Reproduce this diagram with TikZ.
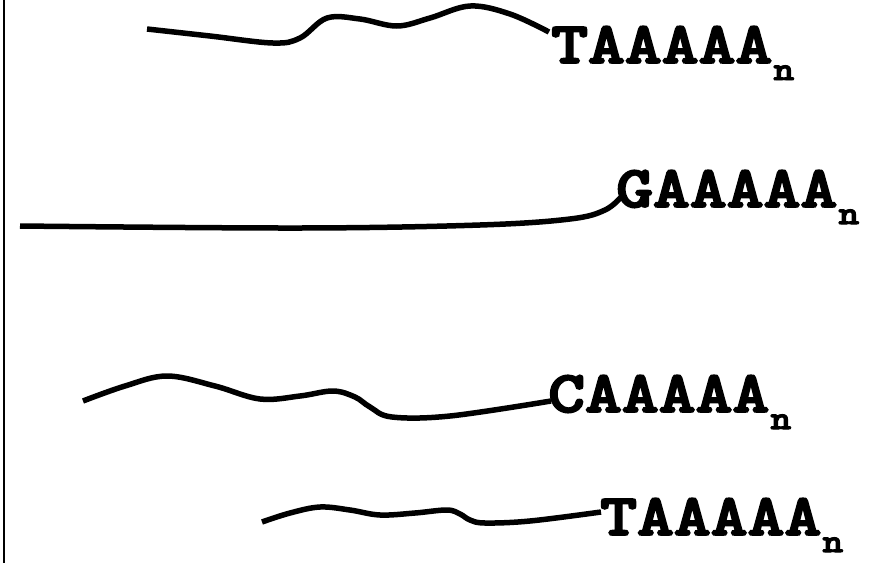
\documentclass[tikz,border=0pt]{standalone}
\usepackage{graphicx}
\usepackage{fontspec}
% heavy slab-serif monospace for the sequence tails
\newfontfamily\seqfont{lmmonolt10-bold.otf}[FakeBold=3]
\tikzset{
  strand/.style={line width=5.5pt, line cap=butt, line join=round},
  seqlabel/.style={inner sep=0pt, anchor=base west, font=\seqfont\fontsize{59}{59}\selectfont},
}
% poly(A) tail label: widened text with a lowered n
\newcommand{\polyA}[1]{\scalebox{1.19}[1]{#1\kern1pt\raisebox{-17pt}{\fontsize{33}{33}\selectfont n}}}
\begin{document}
\begin{tikzpicture}[x=1pt, y=-1pt]
  \useasboundingbox (0,0) rectangle (884,563);
  \fill[white] (0,0) rectangle (884,563);
  % left edge rule
  \draw[line width=2pt] (4,0) -- (4,563);

  % poly(A) sequence labels
  \node[seqlabel] (s1) at (551,63) {\polyA{TAAAAA}};
  \node[seqlabel] (s2) at (616,207) {\polyA{GAAAAA}};
  \node[seqlabel] (s3) at (548,412) {\polyA{CAAAAA}};
  \node[seqlabel] (s4) at (600,535) {\polyA{TAAAAA}};

  % strand end points at each label
  \coordinate (e1) at (549,32);
  \coordinate (e2) at (622,196);
  \coordinate (e3) at (551,401);
  \coordinate (e4) at (601,512);

  % RNA strands
  \draw[strand] plot[smooth, tension=0.6] coordinates {(147,29) (210,36) (273,43) (300,38) (327,18) (360,19) (397,26) (430,18) (470,6) (510,14) (e1)};
  \draw[strand] plot[smooth, tension=0.6] coordinates {(20,226) (300,228) (480,225) (570,219) (605,210) (e2)};
  \draw[strand] plot[smooth, tension=0.6] coordinates {(83,401) (125,386) (167,376) (215,386) (260,399) (300,396) (333,391) (355,397) (370,407) (392,417) (450,416) (e3)};
  \draw[strand] plot[smooth, tension=0.6] coordinates {(262,522) (290,513) (320,507) (350,510) (380,515) (415,513) (447,510) (460,514) (470,520) (485,523) (530,521) (e4)};
\end{tikzpicture}
\end{document}
